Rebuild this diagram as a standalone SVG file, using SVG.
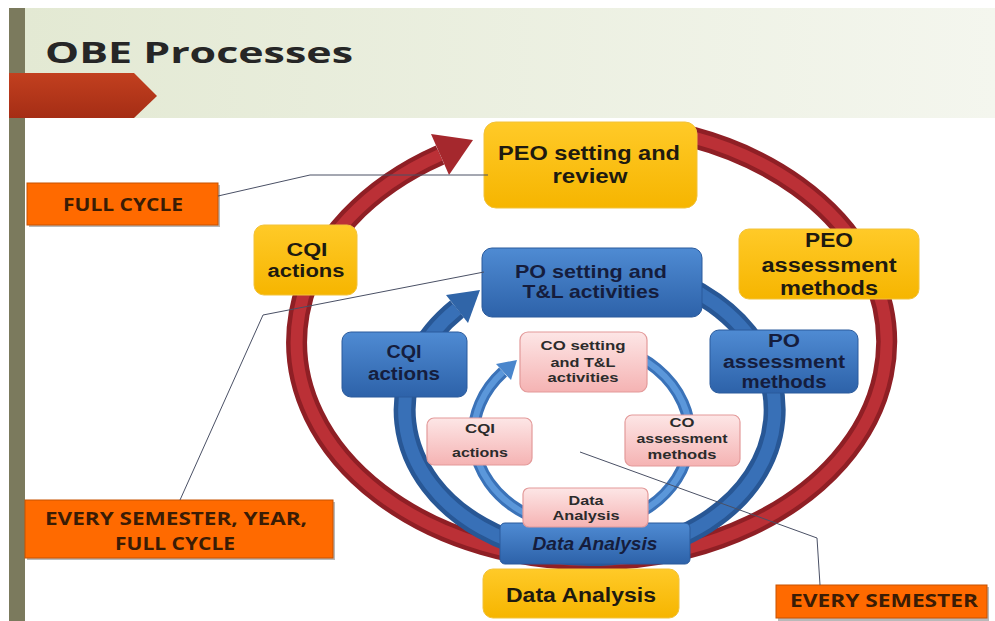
<svg xmlns="http://www.w3.org/2000/svg" width="995" height="621" viewBox="0 0 995 621">
<defs>
<linearGradient id="hdr" x1="0" y1="0" x2="1" y2="0"><stop offset="0" stop-color="#e3e9d3"/><stop offset="1" stop-color="#f4f6ee"/></linearGradient>
<linearGradient id="yel" x1="0" y1="0" x2="0" y2="1"><stop offset="0" stop-color="#ffca28"/><stop offset="1" stop-color="#f6b500"/></linearGradient>
<linearGradient id="blu" x1="0" y1="0" x2="0" y2="1"><stop offset="0" stop-color="#4f8bd3"/><stop offset="1" stop-color="#2d62a9"/></linearGradient>
<linearGradient id="pnk" x1="0" y1="0" x2="0" y2="1"><stop offset="0" stop-color="#fde6e6"/><stop offset="1" stop-color="#f5b3b3"/></linearGradient>
<linearGradient id="peak" x1="0" y1="0" x2="0" y2="1"><stop offset="0" stop-color="#c2401f"/><stop offset="1" stop-color="#a52d15"/></linearGradient>
<style>
.yb{fill:url(#yel);stroke:#f2c23a;stroke-width:1}
.bb{fill:url(#blu);stroke:#2a5a9c;stroke-width:1}
.pb{fill:url(#pnk);stroke:#e39a9a;stroke-width:1.2}
.ob{fill:#ff6a00;stroke:#c85200;stroke-width:1}
.sh{fill:#8a8a8a;opacity:0.6}
.t{font-family:"Liberation Sans",Arial,sans-serif;font-weight:bold;text-anchor:middle}
.ty{fill:#1e1a10}
.tb{fill:#151d3d}
.tp{fill:#2b2b2b}
.to{font-family:"Open Sans","Liberation Sans",sans-serif;font-weight:bold;text-anchor:middle;fill:#3a1c05}
.lead{fill:none;stroke:#4a5065;stroke-width:1}
</style>
</defs>
<rect x="0" y="0" width="995" height="621" fill="#ffffff"/>
<rect x="25" y="8" width="970" height="110" fill="url(#hdr)"/>
<rect x="9" y="8" width="16" height="613" fill="#7b7a5d"/>
<polygon points="9,73 134,73 157,96 134,118 9,118" fill="url(#peak)"/>
<text x="45" y="63" font-family="'Open Sans','Liberation Sans',sans-serif" font-weight="bold" font-size="29" fill="#262626" textLength="308" lengthAdjust="spacingAndGlyphs">OBE Processes</text>

<g id="cycles">
<path d="M440,155 A295,218 0 1 0 692,137" fill="none" stroke="#8f1f25" stroke-width="21"/>
<path d="M440,155 A295,218 0 1 0 692,137" fill="none" stroke="#bb3036" stroke-width="12"/>
<polygon points="473,140 431,134 449,175" fill="#a5282d"/>
<path d="M457,309 A185,145 0 1 0 650,273" fill="none" stroke="#285795" stroke-width="22"/>
<path d="M457,309 A185,145 0 1 0 650,273" fill="none" stroke="#3870b7" stroke-width="13"/>
<polygon points="480,290 446,295 468,323" fill="#3065a8"/>
<path d="M503,372 A108,92 0 1 0 620,349" fill="none" stroke="#3a72b8" stroke-width="12"/>
<path d="M503,372 A108,92 0 1 0 620,349" fill="none" stroke="#5b97da" stroke-width="6"/>
<polygon points="517,360 496,364 511,380" fill="#4a86cc"/>
</g>

<g id="peo-setting"><rect class="yb" x="484" y="122" width="213" height="86" rx="12"/>
<text class="t ty" x="589" y="160" font-size="21" textLength="182" lengthAdjust="spacingAndGlyphs">PEO setting and</text>
<text class="t ty" x="590" y="183" font-size="21" textLength="75" lengthAdjust="spacingAndGlyphs">review</text></g>

<g id="cqi-outer"><rect class="yb" x="254" y="225" width="103" height="70" rx="10"/>
<text class="t ty" x="307" y="256" font-size="18" textLength="41" lengthAdjust="spacingAndGlyphs">CQI</text>
<text class="t ty" x="306" y="277" font-size="18" textLength="77" lengthAdjust="spacingAndGlyphs">actions</text></g>

<g id="peo-assessment"><rect class="yb" x="739" y="229" width="180" height="70" rx="10"/>
<text class="t ty" x="829" y="247" font-size="20" textLength="48" lengthAdjust="spacingAndGlyphs">PEO</text>
<text class="t ty" x="829" y="272" font-size="20" textLength="135" lengthAdjust="spacingAndGlyphs">assessment</text>
<text class="t ty" x="829" y="295" font-size="20" textLength="98" lengthAdjust="spacingAndGlyphs">methods</text></g>

<g id="po-setting"><rect class="bb" x="482" y="248" width="220" height="69" rx="10"/>
<text class="t tb" x="591" y="278" font-size="19" textLength="152" lengthAdjust="spacingAndGlyphs">PO setting and</text>
<text class="t tb" x="591" y="298" font-size="19" textLength="137" lengthAdjust="spacingAndGlyphs">T&amp;L activities</text></g>

<g id="cqi-middle"><rect class="bb" x="342" y="332" width="125" height="65" rx="9"/>
<text class="t tb" x="404" y="358" font-size="18" textLength="35" lengthAdjust="spacingAndGlyphs">CQI</text>
<text class="t tb" x="404" y="380" font-size="18" textLength="72" lengthAdjust="spacingAndGlyphs">actions</text></g>

<g id="po-assessment"><rect class="bb" x="710" y="330" width="148" height="63" rx="9"/>
<text class="t tb" x="784" y="347" font-size="18" textLength="32" lengthAdjust="spacingAndGlyphs">PO</text>
<text class="t tb" x="784" y="368" font-size="18" textLength="122" lengthAdjust="spacingAndGlyphs">assessment</text>
<text class="t tb" x="784" y="388" font-size="18" textLength="85" lengthAdjust="spacingAndGlyphs">methods</text></g>

<g id="data-middle"><rect class="bb" x="500" y="523" width="190" height="41" rx="5"/>
<text class="t tb" x="595" y="550" font-size="18" font-style="italic" textLength="125" lengthAdjust="spacingAndGlyphs">Data Analysis</text></g>

<g id="co-setting"><rect class="pb" x="520" y="332" width="127" height="60" rx="8"/>
<text class="t tp" x="583" y="350" font-size="13" textLength="85" lengthAdjust="spacingAndGlyphs">CO setting</text>
<text class="t tp" x="583" y="367" font-size="13" textLength="65" lengthAdjust="spacingAndGlyphs">and T&amp;L</text>
<text class="t tp" x="583" y="382" font-size="13" textLength="71" lengthAdjust="spacingAndGlyphs">activities</text></g>

<g id="cqi-inner"><rect class="pb" x="427" y="418" width="105" height="47" rx="7"/>
<text class="t tp" x="480" y="433" font-size="13" textLength="30" lengthAdjust="spacingAndGlyphs">CQI</text>
<text class="t tp" x="480" y="457" font-size="13" textLength="56" lengthAdjust="spacingAndGlyphs">actions</text></g>

<g id="co-assessment"><rect class="pb" x="625" y="415" width="115" height="51" rx="7"/>
<text class="t tp" x="682" y="427" font-size="13" textLength="25" lengthAdjust="spacingAndGlyphs">CO</text>
<text class="t tp" x="682" y="443" font-size="13" textLength="91" lengthAdjust="spacingAndGlyphs">assessment</text>
<text class="t tp" x="682" y="459" font-size="13" textLength="69" lengthAdjust="spacingAndGlyphs">methods</text></g>

<g id="data-inner"><rect class="pb" x="523" y="488" width="125" height="39" rx="6"/>
<text class="t tp" x="586" y="505" font-size="13" textLength="35" lengthAdjust="spacingAndGlyphs">Data</text>
<text class="t tp" x="586" y="520" font-size="13" textLength="67" lengthAdjust="spacingAndGlyphs">Analysis</text></g>

<g id="data-outer"><rect class="yb" x="483" y="569" width="196" height="49" rx="10"/>
<text class="t ty" x="581" y="602" font-size="20" textLength="150" lengthAdjust="spacingAndGlyphs">Data Analysis</text></g>

<g id="full-cycle"><rect class="sh" x="29" y="185" width="191" height="42"/><rect class="ob" x="27" y="183" width="191" height="42"/>
<text class="to" x="123" y="211" font-size="17" textLength="120" lengthAdjust="spacingAndGlyphs">FULL CYCLE</text></g>

<g id="every-sem-year"><rect class="sh" x="27" y="502" width="308" height="58"/><rect class="ob" x="25" y="500" width="308" height="58"/>
<text class="to" x="176" y="525" font-size="17" textLength="262" lengthAdjust="spacingAndGlyphs">EVERY SEMESTER, YEAR,</text>
<text class="to" x="175" y="550" font-size="17" textLength="120" lengthAdjust="spacingAndGlyphs">FULL CYCLE</text></g>

<g id="every-sem"><rect class="sh" x="778" y="587" width="211" height="34"/><rect class="ob" x="776" y="585" width="211" height="33"/>
<text class="to" x="884" y="607" font-size="17" textLength="188" lengthAdjust="spacingAndGlyphs">EVERY SEMESTER</text></g>

<g id="connectors">
<polyline class="lead" points="218,196 310,175 488,175"/>
<polyline class="lead" points="180,500 263,315 484,272"/>
<polyline class="lead" points="580,452 817,538 820,585"/>
</g>
</svg>
